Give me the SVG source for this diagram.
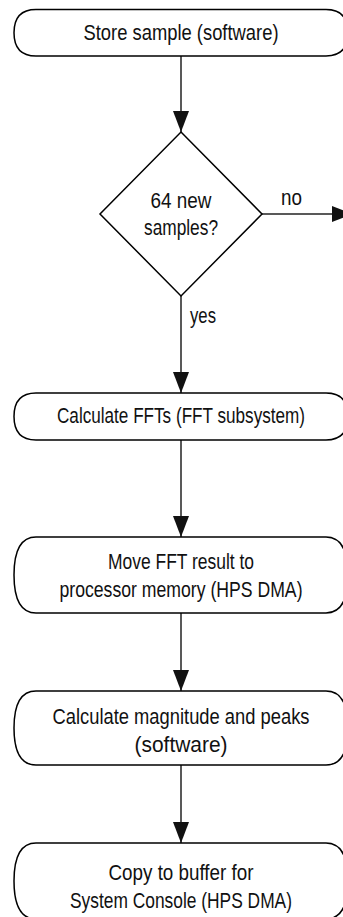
<svg xmlns="http://www.w3.org/2000/svg" width="343" height="917" viewBox="0 0 343 917">
  <style>
    .box { fill: #fff; stroke: #000; stroke-width: 1.5; }
    .lbl { font-family: "Liberation Sans", Arial, sans-serif; font-size: 22px; fill: #111; text-anchor: middle; }
    .edge { stroke: #222; stroke-width: 1.5; fill: none; marker-end: url(#arrow); }
    .elbl { font-family: "Liberation Sans", Arial, sans-serif; font-size: 22px; fill: #111; }
  </style>
  <defs>
    <marker id="arrow" markerUnits="userSpaceOnUse" markerWidth="22" markerHeight="18" refX="21" refY="9" orient="auto">
      <path d="M0,1 L21,9 L0,17 Z" fill="#111"/>
    </marker>
  </defs>
  <rect width="343" height="917" fill="#fff"/>

  <g id="connectors">
    <line class="edge" x1="181" y1="56" x2="181" y2="132"/>
    <line class="edge" x1="262" y1="214" x2="353" y2="214"/>
    <line class="edge" x1="181" y1="296" x2="181" y2="393"/>
    <line class="edge" x1="181" y1="440" x2="181" y2="537"/>
    <line class="edge" x1="181" y1="613" x2="181" y2="691"/>
    <line class="edge" x1="181" y1="765" x2="181" y2="843"/>
    <text class="elbl" x="281" y="205" textLength="21" lengthAdjust="spacingAndGlyphs">no</text>
    <text class="elbl" x="190" y="323" textLength="26" lengthAdjust="spacingAndGlyphs">yes</text>
  </g>

  <g id="store">
    <path class="box" d="M36,9.5 H326 C342,9.5 348,18.8 348,32.75 C348,46.7 342,56 326,56 H36 C20,56 14,46.7 14,32.75 C14,18.8 20,9.5 36,9.5 Z"/>
    <text class="lbl" x="181" y="40" textLength="195" lengthAdjust="spacingAndGlyphs">Store sample (software)</text>
  </g>

  <g id="decision">
    <polygon class="box" points="181,132 262,214 181,296 100,214"/>
    <text class="lbl" x="181" y="208" textLength="61" lengthAdjust="spacingAndGlyphs">64 new</text>
    <text class="lbl" x="181" y="235" textLength="74" lengthAdjust="spacingAndGlyphs">samples?</text>
  </g>

  <g id="fft">
    <path class="box" d="M36,393 H326 C342,393 348,402.4 348,416.5 C348,430.6 342,440 326,440 H36 C20,440 14,430.6 14,416.5 C14,402.4 20,393 36,393 Z"/>
    <text class="lbl" x="181" y="423" textLength="248" lengthAdjust="spacingAndGlyphs">Calculate FFTs (FFT subsystem)</text>
  </g>

  <g id="move">
    <path class="box" d="M36,537 H326 C342,537 348,552.2 348,575 C348,597.8 342,613 326,613 H36 C20,613 14,597.8 14,575 C14,552.2 20,537 36,537 Z"/>
    <text class="lbl" x="181" y="569" textLength="146" lengthAdjust="spacingAndGlyphs">Move FFT result to</text>
    <text class="lbl" x="181" y="597" textLength="243" lengthAdjust="spacingAndGlyphs">processor memory (HPS DMA)</text>
  </g>

  <g id="magnitude">
    <path class="box" d="M36,691 H326 C342,691 348,705.8 348,728 C348,750.2 342,765 326,765 H36 C20,765 14,750.2 14,728 C14,705.8 20,691 36,691 Z"/>
    <text class="lbl" x="181" y="724" textLength="257" lengthAdjust="spacingAndGlyphs">Calculate magnitude and peaks</text>
    <text class="lbl" x="181" y="752" textLength="93" lengthAdjust="spacingAndGlyphs">(software)</text>
  </g>

  <g id="copy">
    <path class="box" d="M36,843 H326 C342,843 348,858.2 348,881 C348,903.8 342,919 326,919 H36 C20,919 14,903.8 14,881 C14,858.2 20,843 36,843 Z"/>
    <text class="lbl" x="181" y="880" textLength="145" lengthAdjust="spacingAndGlyphs">Copy to buffer for</text>
    <text class="lbl" x="181" y="908" textLength="222" lengthAdjust="spacingAndGlyphs">System Console (HPS DMA)</text>
  </g>
</svg>
